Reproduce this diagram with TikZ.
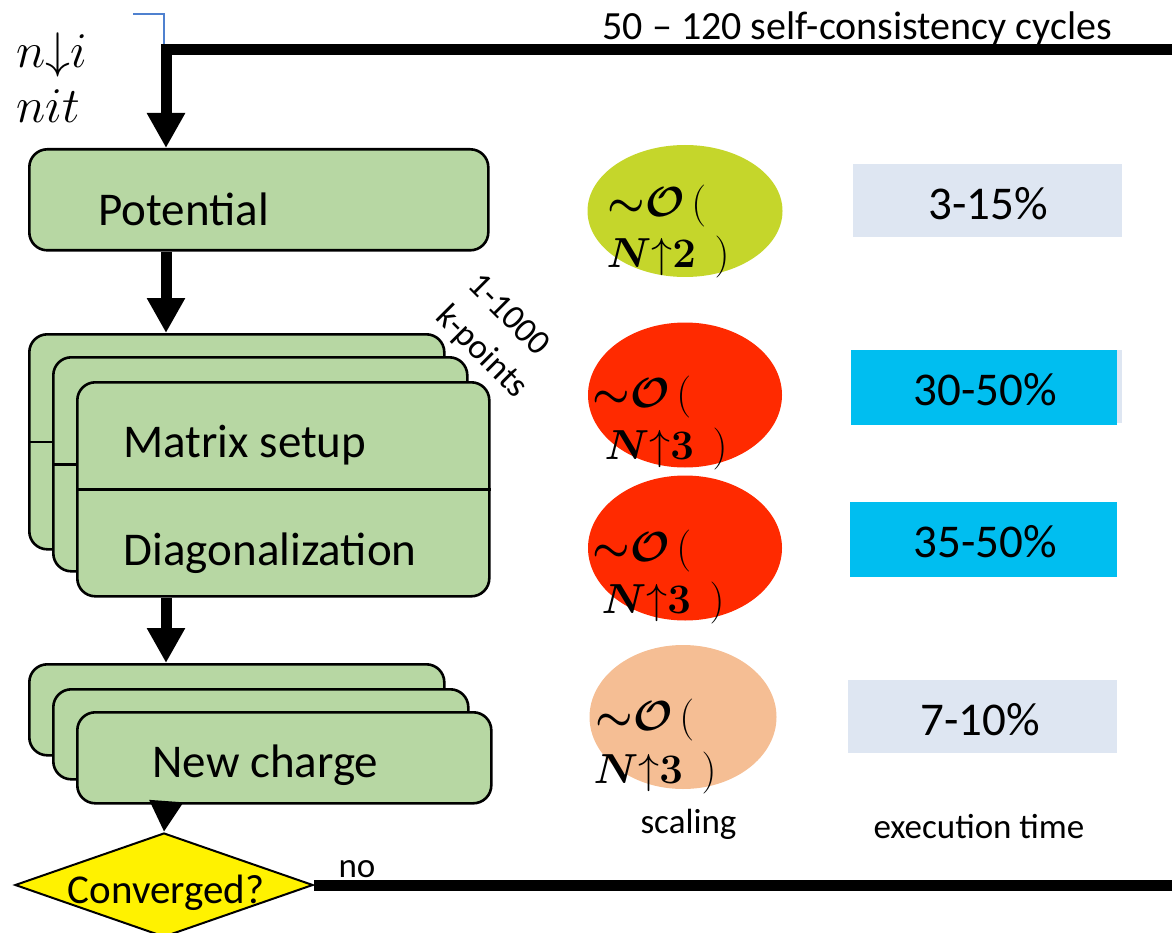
\RequirePackage{fix-cm}
\documentclass[tikz,border=0pt]{standalone}
\usepackage{amsmath}
\usepackage[no-math]{fontspec}
\setmainfont{Carlito}
\usetikzlibrary{shapes.geometric,arrows.meta}

\definecolor{boxgreen}{RGB}{183,215,163}
\definecolor{limeball}{RGB}{197,214,43}
\definecolor{redball}{RGB}{255,42,0}
\definecolor{peachball}{RGB}{245,190,148}
\definecolor{paleblue}{RGB}{222,230,242}
\definecolor{cyanbar}{RGB}{0,190,240}
\definecolor{loopblue}{RGB}{79,129,207}

\newcommand{\fs}[1]{\fontsize{#1}{#1}\selectfont}
\newcommand{\orderhead}{$\boldsymbol{{\sim}\mathcal{O}}\,($}
\newcommand{\orderpow}[1]{$\boldsymbol{N}{\uparrow}\mathbf{#1}\;\,)$}

\begin{document}
\begin{tikzpicture}[x=1pt,y=-1pt,
  stepbox/.style={draw=black, line width=2.6pt, fill=boxgreen,
    rounded corners=18pt, inner sep=0pt, anchor=north west},
  flow/.style={line width=11pt, -{Triangle[width=36pt,length=35pt]}},
  shortflow/.style={line width=11pt, -{Triangle[width=32pt,length=31pt]}},
  ball/.style={ellipse, inner sep=0pt},
  bar/.style={inner sep=0pt, anchor=north west},
  label/.style={anchor=base west, font=\fs{47}},
  pct/.style={anchor=base, font=\fs{47}},
  eq/.style={anchor=base west, font=\fs{42}},
  small/.style={font=\fs{35}}]
\useasboundingbox (0,0) rectangle (1172,933);

% column of the main flow
\coordinate (a1) at (166,0);

% loop title and start marker
\node[anchor=base west, font=\fs{40}] (title) at (599,40) {50 \textendash{} 120 self-consistency cycles};
\node[anchor=base west, font=\fs{50}] (ninit1) at (13,68) {$n{\downarrow}i$};
\node[anchor=base west, font=\fs{50}] (ninit2) at (13,123) {$nit$};
\coordinate (bl1) at (133,14);
\coordinate (bl2) at (164,91);
\draw[loopblue, line width=2pt] (bl1) -| (bl2);

% Potential
\node[stepbox, minimum width=459pt, minimum height=101pt] (pot) at (28,148) {};
\node[label] at (95,226) {Potential};

% Matrix setup / Diagonalization stack
\node[stepbox, minimum width=415pt, minimum height=215pt] (mb) at (28,333) {};
\draw[line width=2.6pt] (mb.west) -- (mb.east);
\node[stepbox, minimum width=414pt, minimum height=214pt] (mm) at (52,356) {};
\draw[line width=2.6pt] (mm.west) -- (mm.east);
\node[stepbox, minimum width=412pt, minimum height=214pt] (mf) at (76,381) {};
\draw[line width=2.6pt] (mf.west) -- (mf.east);
\node[label] at (120,457) {Matrix setup};
\node[label] at (120,565) {Diagonalization};

% New charge stack
\node[stepbox, minimum width=415pt, minimum height=91pt] (cb) at (28,663) {};
\node[stepbox, minimum width=415pt, minimum height=90pt] (cm) at (52,688) {};
\node[stepbox, minimum width=414pt, minimum height=91pt] (cf) at (76,711) {};
\node[label] at (149,777) {New charge};

\node[rotate=-45, align=left, font=\fontsize{35}{45}\selectfont, inner sep=0pt]
  (kp) at (497,337) {1-1000\\k-points};

% convergence test
\node[diamond, draw=black, line width=2pt, fill=yellow, inner sep=0pt,
      minimum width=298pt, minimum height=104pt] (dia) at (164,885) {};
\node[anchor=base, font=\fs{41}] at (166,903) {Converged?};
\node[anchor=base west, small] (no) at (335,877) {no};

% connectors
\coordinate (topR) at (1185,49.5);
\coordinate (botR) at (1185,885);
\draw[flow, line join=miter] (topR) -| (pot.north -| a1);
\draw[flow] (pot.south -| a1) -- (mb.north -| a1);
\draw[flow] (mf.south -| a1) -- (cb.north -| a1);
\draw[shortflow] (cf.south -| a1) -- (dia.north);
\draw[line width=11pt] (dia.east) -- (botR);

% scaling
\node[ball, fill=limeball, minimum width=195pt, minimum height=132pt] (s1) at (685,211) {};
\node[ball, fill=redball, minimum width=194pt, minimum height=145pt] (s2) at (685,395) {};
\node[ball, fill=redball, minimum width=194pt, minimum height=145pt] (s3) at (685,548) {};
\node[ball, fill=peachball, minimum width=187pt, minimum height=144pt] (s4) at (683,717) {};

\node[eq] at (604,217) {\orderhead};
\node[eq] at (603,268) {\orderpow{2}};
\node[eq] at (589,407) {\orderhead};
\node[eq] at (601,459) {\orderpow{3}};
\node[eq] at (589,561) {\orderhead};
\node[eq] at (598,613) {\orderpow{3}};
\node[eq] at (592,730) {\orderhead};
\node[eq] at (590,783) {\orderpow{3}};
\node[anchor=base west, small] (scl) at (637,833) {scaling};

% execution time
\node[bar, fill=paleblue, minimum width=269pt, minimum height=73pt] (t1) at (853,164) {};
\node[bar, fill=paleblue, minimum width=269pt, minimum height=73pt] (t2b) at (853,350) {};
\node[bar, fill=cyanbar, minimum width=266pt, minimum height=75pt] (t2) at (851,350) {};
\node[bar, fill=cyanbar, minimum width=267pt, minimum height=75pt] (t3) at (850,502) {};
\node[bar, fill=paleblue, minimum width=269pt, minimum height=73pt] (t4) at (848,680) {};
\node[pct] at (988,220) {3-15\%};
\node[pct] at (985,405) {30-50\%};
\node[pct] at (985,557) {35-50\%};
\node[pct] at (980,735) {7-10\%};
\node[anchor=base west, small] (ext) at (870,838) {execution time};
\end{tikzpicture}
\end{document}
